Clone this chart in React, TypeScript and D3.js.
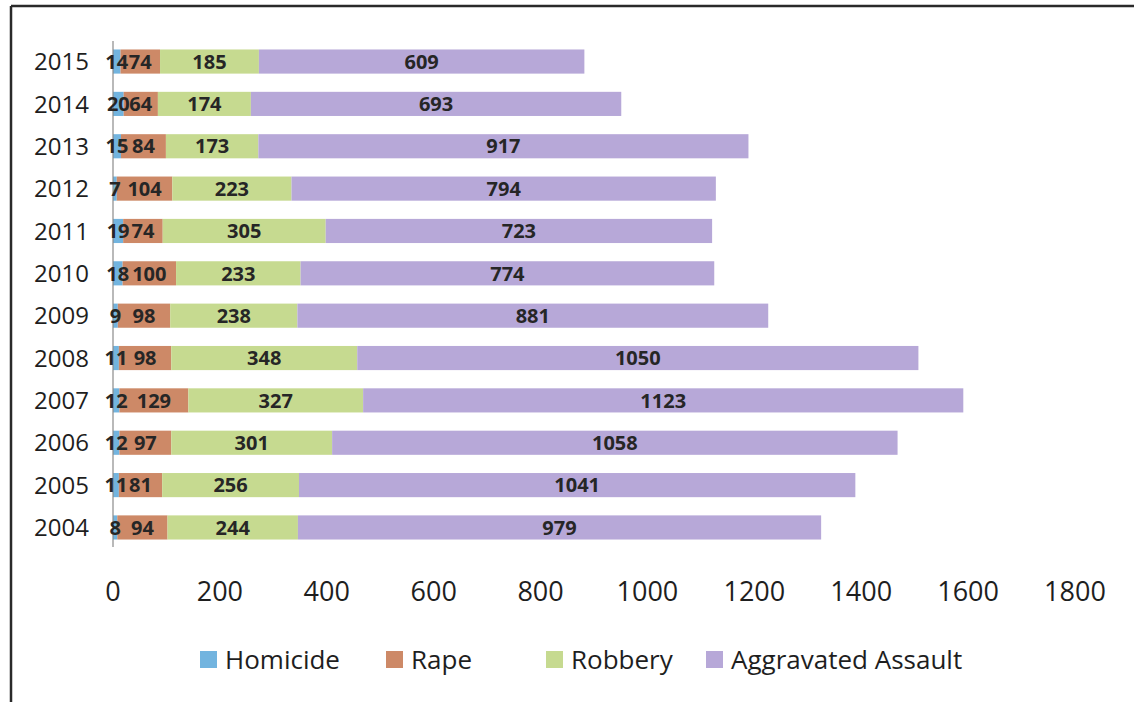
import { useMemo } from "react";
import * as d3 from "d3";

const WIDTH = 1134;
const HEIGHT = 702;
const FONT = "'Open Sans', 'Noto Sans', sans-serif";

const YEARS = ["2015", "2014", "2013", "2012", "2011", "2010", "2009", "2008", "2007", "2006", "2005", "2004"];
const HOMICIDE = [14, 20, 15, 7, 19, 18, 9, 11, 12, 12, 11, 8];
const RAPE = [74, 64, 84, 104, 74, 100, 98, 98, 129, 97, 81, 94];
const ROBBERY = [185, 174, 173, 223, 305, 233, 238, 348, 327, 301, 256, 244];
const ASSAULT = [609, 693, 917, 794, 723, 774, 881, 1050, 1123, 1058, 1041, 979];
const SERIES = ["Homicide", "Rape", "Robbery", "Aggravated Assault"];
const COLORS = ["#72b4df", "#cd8967", "#c6da90", "#b7a8d8"];
const X_TICKS = [0, 200, 400, 600, 800, 1000, 1200, 1400, 1600, 1800];

export default function App() {
  const rows = useMemo(
    () =>
      YEARS.map((year, i) => ({
        year,
        Homicide: HOMICIDE[i],
        Rape: RAPE[i],
        Robbery: ROBBERY[i],
        "Aggravated Assault": ASSAULT[i],
      })),
    []
  );

  const stacked = useMemo(() => d3.stack<any>().keys(SERIES)(rows), [rows]);

  const x = d3.scaleLinear().domain([0, 1800]).range([113, 1075]);
  const y = d3
    .scaleBand()
    .domain(YEARS)
    .range([41, 548])
    .paddingInner(0.43)
    .paddingOuter(0.2);

  const legendX = [200, 386, 546, 706];

  return (
    <svg
      width={WIDTH}
      height={HEIGHT}
      style={{ position: "absolute", left: 0, top: 0, background: "#fff" }}
      fontFamily={FONT}
    >
      <rect x={0} y={0} width={WIDTH} height={HEIGHT} fill="#fff" />
      {/* frame */}
      <line x1={11} y1={6} x2={WIDTH} y2={6} stroke="#2a2a2a" strokeWidth={2.5} />
      <line x1={11} y1={6} x2={11} y2={HEIGHT} stroke="#2a2a2a" strokeWidth={2.5} />

      {stacked.map((layer, si) =>
        layer.map((d) => (
          <rect
            key={`${SERIES[si]}-${d.data.year}`}
            x={x(d[0])}
            y={y(d.data.year) ?? 0}
            width={x(d[1]) - x(d[0])}
            height={y.bandwidth()}
            fill={COLORS[si]}
          />
        ))
      )}

      {/* y axis line */}
      <line x1={x(0)} y1={41} x2={x(0)} y2={547} stroke="#8a8a8a" strokeWidth={1.2} />

      {stacked.map((layer, si) =>
        layer.map((d) => (
          <text
            key={`lbl-${SERIES[si]}-${d.data.year}`}
            x={(x(d[0]) + x(d[1])) / 2}
            y={(y(d.data.year) ?? 0) + y.bandwidth() / 2}
            dy="0.36em"
            textAnchor="middle"
            fontSize={20}
            fontWeight="bold"
            fill="#262626"
          >
            {d[1] - d[0]}
          </text>
        ))
      )}

      {YEARS.map((yr) => (
        <text
          key={yr}
          x={89}
          y={(y(yr) ?? 0) + y.bandwidth() / 2}
          dy="0.36em"
          textAnchor="end"
          fontSize={24}
          fill="#1e1e1e"
        >
          {yr}
        </text>
      ))}

      {X_TICKS.map((t) => (
        <text
          key={t}
          x={x(t)}
          y={591}
          dy="0.36em"
          textAnchor="middle"
          fontSize={27}
          fill="#1e1e1e"
        >
          {t}
        </text>
      ))}

      {SERIES.map((s, i) => (
        <g key={s} transform={`translate(${legendX[i]},660)`}>
          <rect x={0} y={-9} width={17} height={17} fill={COLORS[i]} />
          <text x={25} y={0} dy="0.36em" fontSize={26} fill="#1e1e1e">
            {s}
          </text>
        </g>
      ))}
    </svg>
  );
}
